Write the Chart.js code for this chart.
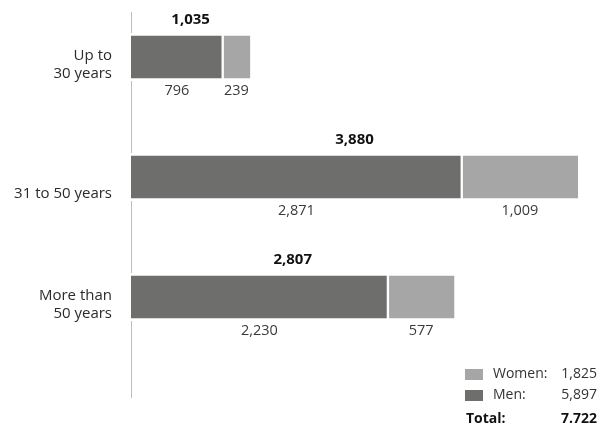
<!DOCTYPE html>
<html>
<head>
<meta charset="utf-8">
<script src="https://cdn.jsdelivr.net/npm/chart.js@4/dist/chart.umd.min.js"></script>
<style>
  html, body { margin: 0; padding: 0; background: #fff; }
  #chart { display: block; }
</style>
</head>
<body>
<canvas id="chart" width="601" height="425"></canvas>
<script>
const ageGroups = [['Up to', '30 years'], ['31 to 50 years'], ['More than', '50 years']];
const men = [796, 2871, 2230];
const women = [239, 1009, 577];
const totals = [1035, 3880, 2807];
const legendRows = [
  { label: 'Women:', value: '1,825', color: '#a6a6a6' },
  { label: 'Men:', value: '5,897', color: '#6e6e6d' },
];
const grandTotal = ['Total:', '7.722'];

const FONT = '"Open Sans", "Noto Sans", sans-serif';
const fmt = v => v.toLocaleString('en-US');

// vertical axis line, broken by the white bar borders
const axisLine = {
  id: 'axisLine',
  beforeDatasetsDraw(chart) {
    const { ctx, chartArea } = chart;
    ctx.save();
    ctx.strokeStyle = '#bdbdbd';
    ctx.lineWidth = 1;
    ctx.beginPath();
    ctx.moveTo(chartArea.left + 0.5, chartArea.top - 45);
    ctx.lineTo(chartArea.left + 0.5, chartArea.bottom + 101);
    ctx.stroke();
    ctx.restore();
  },
};

// category names, last line sitting on the bar's lower edge
const categoryLabels = {
  id: 'categoryLabels',
  afterDraw(chart) {
    const { ctx, chartArea } = chart;
    const yScale = chart.scales.y;
    ctx.save();
    ctx.fillStyle = '#2b2b2b';
    ctx.font = `15px ${FONT}`;
    ctx.textAlign = 'right';
    ctx.textBaseline = 'alphabetic';
    ageGroups.forEach((lines, i) => {
      const base = yScale.getPixelForValue(i) + 20.5;
      lines.forEach((line, j) => {
        ctx.fillText(line, chartArea.left - 19, base - (lines.length - 1 - j) * 17.5);
      });
    });
    ctx.restore();
  },
};

// segment values under the bars, totals above them
const barLabels = {
  id: 'barLabels',
  afterDatasetsDraw(chart) {
    const { ctx } = chart;
    const menMeta = chart.getDatasetMeta(0);
    const womenMeta = chart.getDatasetMeta(1);
    ctx.save();
    ctx.textAlign = 'center';
    ctx.textBaseline = 'middle';
    menMeta.data.forEach((bar, i) => {
      const wBar = womenMeta.data[i];
      ctx.fillStyle = '#3a3a3a';
      ctx.font = `14.5px ${FONT}`;
      ctx.fillText(fmt(men[i]), (bar.base + bar.x) / 2, bar.y + 34);
      ctx.fillText(fmt(women[i]), (wBar.base + wBar.x) / 2, wBar.y + 34);
      ctx.fillStyle = '#111';
      ctx.font = `bold 15px ${FONT}`;
      ctx.fillText(fmt(totals[i]), (bar.base + wBar.x) / 2, bar.y - 37);
    });
    ctx.restore();
  },
};

// legend box in the lower right corner
const sideLegend = {
  id: 'sideLegend',
  afterDraw(chart) {
    const { ctx, chartArea } = chart;
    const right = chart.width - 4;
    const sq = right - 132;
    ctx.save();
    ctx.textBaseline = 'middle';
    ctx.font = `14px ${FONT}`;
    legendRows.forEach((row, i) => {
      const y = chartArea.bottom + 77 + i * 21;
      ctx.fillStyle = row.color;
      ctx.fillRect(sq, y - 5, 18, 11);
      ctx.fillStyle = '#333';
      ctx.textAlign = 'left';
      ctx.fillText(row.label, sq + 28, y);
      ctx.textAlign = 'right';
      ctx.fillText(row.value, right, y);
    });
    const ty = chartArea.bottom + 122;
    ctx.fillStyle = '#111';
    ctx.font = `bold 14px ${FONT}`;
    ctx.textAlign = 'left';
    ctx.fillText(grandTotal[0], sq + 1, ty);
    ctx.textAlign = 'right';
    ctx.fillText(grandTotal[1], right, ty);
    ctx.restore();
  },
};

new Chart(document.getElementById('chart'), {
  type: 'bar',
  data: {
    labels: ageGroups.map(l => l.join(' ')),
    datasets: [
      {
        label: 'Men',
        data: men,
        backgroundColor: '#6e6e6d',
        borderColor: '#fff',
        borderWidth: { top: 3, bottom: 3, left: 0, right: 1.5 },
        borderSkipped: false,
        barThickness: 48,
        clip: false,
      },
      {
        label: 'Women',
        data: women,
        backgroundColor: '#a6a6a6',
        borderColor: '#fff',
        borderWidth: { top: 3, bottom: 3, left: 1.5, right: 0 },
        borderSkipped: false,
        barThickness: 48,
        clip: false,
      },
    ],
  },
  options: {
    responsive: false,
    maintainAspectRatio: false,
    animation: false,
    indexAxis: 'y',
    layout: { padding: { top: 57, bottom: 128, left: 0, right: 23 } },
    scales: {
      x: {
        stacked: true,
        display: false,
        min: 0,
        max: 3880,
      },
      y: {
        stacked: true,
        offset: false,
        border: { display: false },
        grid: { display: false, drawTicks: false },
        afterFit: scale => { scale.width = 131; },
        ticks: { display: false },
      },
    },
    plugins: {
      legend: { display: false },
      tooltip: { enabled: false },
    },
  },
  plugins: [axisLine, categoryLabels, barLabels, sideLegend],
});
</script>
</body>
</html>
